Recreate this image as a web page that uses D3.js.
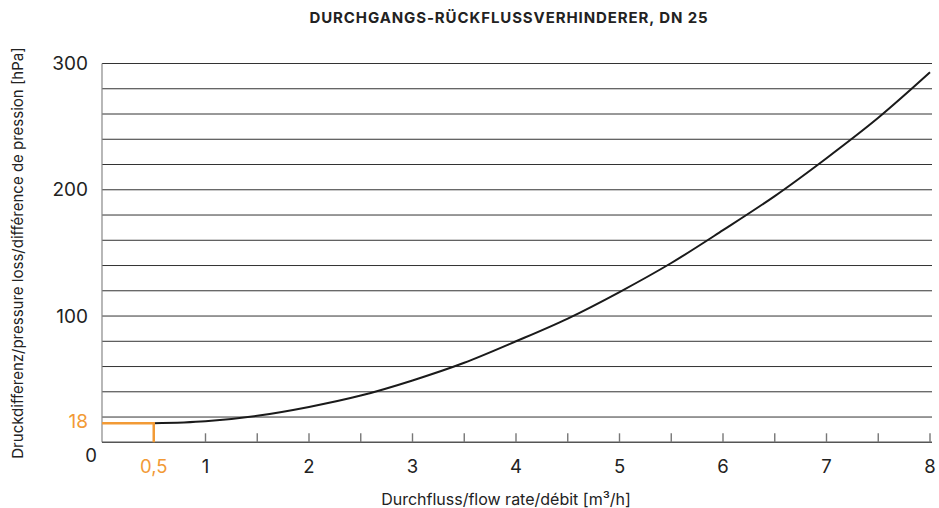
<!DOCTYPE html>
<html>
<head>
<meta charset="utf-8">
<script src="https://cdn.jsdelivr.net/npm/d3@7"></script>
<style>
  html, body { margin: 0; padding: 0; background: #fff; }
  svg { display: block; font-family: Inter, "Noto Sans", sans-serif; }
</style>
</head>
<body>
<svg id="chart" width="939" height="508"></svg>
<script>
// ---- data ----
const title = "DURCHGANGS-RÜCKFLUSSVERHINDERER, DN 25";
const xTitle = "Durchfluss/flow rate/débit [m³/h]";
const yTitle = "Druckdifferenz/pressure loss/différence de pression [hPa]";
const flow     = [0.5, 1.0, 1.5, 2.0, 2.5, 3.0, 3.5, 4.0, 4.5, 5.0, 5.5, 6.0, 6.5, 7.0, 7.5, 8.0];
const pressure = [15, 16.6, 21, 28, 37, 49, 63, 80, 98, 119, 142, 168, 195, 225, 257, 293];
const xTickLabels = [1, 2, 3, 4, 5, 6, 7, 8];
const xMinorTicks = [1, 1.5, 2, 2.5, 3, 3.5, 4, 4.5, 5, 5.5, 6, 6.5, 7, 7.5, 8];
const yTickLabels = [100, 200, 300];
const yGrid = [20, 40, 60, 80, 100, 120, 140, 160, 180, 200, 220, 240, 260, 280, 300];
const markerFlow = [0.5];
const markerPressure = [15];
const markerFlowLabel = ["0,5"];
const markerPressureLabel = ["18"];

// ---- layout ----
const svg = d3.select("#chart");
const orange = "#f29a35";
const x = d3.scaleLinear().domain([0, 8]).range([102, 930]);
const y = d3.scaleLinear().domain([0, 300]).range([442.3, 63.5]);

// title
svg.append("text").attr("x", 509).attr("y", 23)
  .attr("text-anchor", "middle").attr("font-weight", 700).attr("font-size", 15)
  .attr("letter-spacing", 0.9)
  .attr("fill", "#222").text(title);

// grid lines
svg.append("g").selectAll("line").data(yGrid).join("line")
  .attr("x1", x(0)).attr("x2", 932)
  .attr("y1", d => y(d)).attr("y2", d => y(d))
  .attr("stroke", "#333").attr("stroke-width", 1);

// left axis line
svg.append("line").attr("x1", x(0)).attr("x2", x(0))
  .attr("y1", y(300)).attr("y2", y(0))
  .attr("stroke", "#888").attr("stroke-width", 1.2);

// bottom axis line
svg.append("line").attr("x1", x(0)).attr("x2", 932)
  .attr("y1", y(0)).attr("y2", y(0))
  .attr("stroke", "#555").attr("stroke-width", 1.4);

// minor ticks (pointing up)
svg.append("g").selectAll("line").data(xMinorTicks).join("line")
  .attr("x1", d => x(d)).attr("x2", d => x(d))
  .attr("y1", y(0)).attr("y2", y(0) - 9)
  .attr("stroke", "#777").attr("stroke-width", 1.4);

// x tick labels
svg.append("g").selectAll("text").data(xTickLabels).join("text")
  .attr("x", d => x(d)).attr("y", 473)
  .attr("text-anchor", "middle").attr("font-size", 18.5).attr("fill", "#222")
  .text(d => d);
svg.append("text").attr("x", 91).attr("y", 462)
  .attr("text-anchor", "middle").attr("font-size", 18.5).attr("fill", "#222").text("0");

// y tick labels
svg.append("g").selectAll("text").data(yTickLabels).join("text")
  .attr("x", 88).attr("y", d => y(d) + 6.5)
  .attr("text-anchor", "end").attr("font-size", 19).attr("fill", "#222")
  .text(d => d);

// curve
const line = d3.line().x((d, i) => x(flow[i])).y(d => y(d)).curve(d3.curveCatmullRom);
svg.append("path").datum(pressure).attr("d", line)
  .attr("fill", "none").attr("stroke", "#1a1a1a").attr("stroke-width", 2);

// orange marker
markerFlow.forEach((f, i) => {
  const p = markerPressure[i];
  svg.append("path")
    .attr("d", `M${x(0)},${y(p)}H${x(f)}V${y(0)}`)
    .attr("fill", "none").attr("stroke", orange).attr("stroke-width", 2.5);
  svg.append("text").attr("x", x(f)).attr("y", 473)
    .attr("text-anchor", "middle").attr("font-size", 18.5).attr("fill", orange)
    .text(markerFlowLabel[i]);
  svg.append("text").attr("x", 88).attr("y", y(p) + 5)
    .attr("text-anchor", "end").attr("font-size", 19).attr("fill", orange)
    .text(markerPressureLabel[i]);
});

// axis titles
svg.append("text").attr("x", 506).attr("y", 505)
  .attr("text-anchor", "middle").attr("font-size", 16).attr("fill", "#222").text(xTitle);
svg.append("text")
  .attr("transform", "translate(23,253) rotate(-90)")
  .attr("text-anchor", "middle").attr("font-size", 15).attr("fill", "#222").text(yTitle);
</script>
</body>
</html>
